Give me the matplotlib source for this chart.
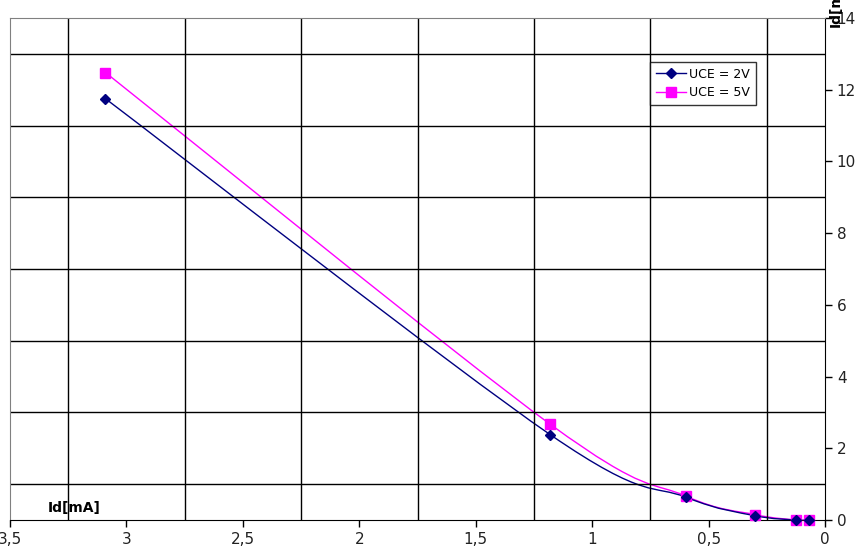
import matplotlib
matplotlib.use("Agg")
import matplotlib.pyplot as plt
from matplotlib.path import Path
from matplotlib.patches import PathPatch
from matplotlib.lines import Line2D
from matplotlib.ticker import MultipleLocator, FuncFormatter

# measured values
ugs = [3.09, 1.18, 0.595, 0.30, 0.124, 0.067]
id_2v = [11.75, 2.38, 0.63, 0.12, 0.0, 0.0]
id_5v = [12.48, 2.67, 0.66, 0.15, 0.0, 0.0]
series_labels = ["UCE = 2V", "UCE = 5V"]


def smooth_path(xs, ys):
    # catmull-rom style bezier, like excel's smoothed lines
    pts = list(zip(xs, ys))
    verts = [pts[0]]
    codes = [Path.MOVETO]
    n = len(pts)
    for i in range(n - 1):
        p0 = pts[i - 1] if i > 0 else pts[i]
        p1 = pts[i]
        p2 = pts[i + 1]
        p3 = pts[i + 2] if i + 2 < n else pts[i + 1]
        c1 = (p1[0] + (p2[0] - p0[0]) / 6, p1[1] + (p2[1] - p0[1]) / 6)
        c2 = (p2[0] - (p3[0] - p1[0]) / 6, p2[1] - (p3[1] - p1[1]) / 6)
        verts += [c1, c2, p2]
        codes += [Path.CURVE4] * 3
    return Path(verts, codes)


fig = plt.figure(figsize=(8.66, 5.48), dpi=100)
ax = fig.add_axes([10 / 866, 1 - 520 / 548, 815 / 866, 502 / 548])

for ys, col, mk, ms in [(id_5v, "magenta", "s", 7), (id_2v, "#000080", "D", 5)]:
    ax.add_patch(PathPatch(smooth_path(ugs, ys), facecolor="none", edgecolor=col, lw=1))
    ax.plot(ugs, ys, ls="none", marker=mk, ms=ms, color=col, clip_on=False, zorder=3)

ax.set_xlim(3.5, 0)
ax.set_ylim(0, 14)

ax.xaxis.set_major_locator(MultipleLocator(0.5))
ax.yaxis.set_major_locator(MultipleLocator(2))
# grid sits between the labelled ticks
ax.set_xticks([0.25, 0.75, 1.25, 1.75, 2.25, 2.75, 3.25], minor=True)
ax.set_yticks([1, 3, 5, 7, 9, 11, 13], minor=True)
ax.grid(True, which="minor", color="black", lw=1)
ax.grid(False, which="major")

fmt = FuncFormatter(lambda v, p: ("%g" % v).replace(".", ","))
ax.xaxis.set_major_formatter(fmt)
ax.yaxis.tick_right()
ax.tick_params(which="minor", length=0)
ax.tick_params(which="major", length=5, width=1, labelsize=11, color="black",
               labelcolor="#222222")
ax.tick_params(axis="x", pad=4)

ax.spines["top"].set_color("#808080")
ax.spines["left"].set_color("#808080")
ax.spines["right"].set_color("black")
ax.spines["bottom"].set_color("black")

ax.text(0.046, 0.01, "Id[mA]", transform=ax.transAxes, fontsize=10,
        fontweight="bold", ha="left", va="bottom")
fig.text(829 / 866, 1 - 27 / 548, "Id[mA]", rotation=90, fontsize=10,
         fontweight="bold", ha="left", va="bottom")

handles = [
    Line2D([], [], color="#000080", marker="D", ms=5, lw=1),
    Line2D([], [], color="magenta", marker="s", ms=7, lw=1),
]
leg = fig.legend(handles, series_labels, loc="upper left",
                 bbox_to_anchor=(650 / 866, 1 - 62 / 548), fontsize=9,
                 frameon=True, fancybox=False, edgecolor="black",
                 handlelength=2.4, borderpad=0.45, labelspacing=0.45,
                 handletextpad=0.3, borderaxespad=0)
leg.get_frame().set_linewidth(1)

fig.savefig("out.png", dpi=100)
